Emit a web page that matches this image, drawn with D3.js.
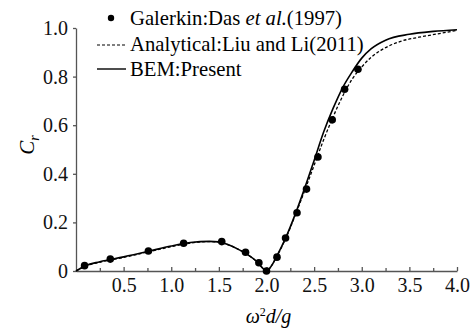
<!DOCTYPE html>
<html>
<head>
<meta charset="utf-8">
<script src="https://cdn.jsdelivr.net/npm/d3@7"></script>
<style>
  body { margin: 0; background: #fff; }
  text { font-family: "Liberation Serif", "Times New Roman", serif; }
</style>
</head>
<body>
<div id="chart"></div>
<script>
// Galerkin results (Das et al. 1997)
const galerkinX = [0.09, 0.36, 0.76, 1.13, 1.53, 1.78, 1.92, 2.0, 2.11, 2.2, 2.32, 2.42, 2.54, 2.69, 2.82, 2.96];
const galerkinY = [0.022, 0.049, 0.082, 0.114, 0.121, 0.077, 0.034, 0.0, 0.057, 0.136, 0.24, 0.337, 0.469, 0.622, 0.748, 0.83];

// analytical solution (Liu and Li 2011)
const analyticalX = [0, 0.1, 0.25, 0.5, 0.75, 1.0, 1.2, 1.4, 1.5, 1.6, 1.7, 1.8, 1.9, 1.96, 2.0, 2.05, 2.1, 2.2, 2.3, 2.4, 2.5, 2.6, 2.7, 2.8, 2.9, 3.0, 3.1, 3.2, 3.4, 3.6, 3.8, 4.0];
const analyticalY = [0, 0.02, 0.036, 0.056, 0.078, 0.1, 0.115, 0.121, 0.119, 0.107, 0.09, 0.068, 0.038, 0.012, 0.0, 0.02, 0.054, 0.132, 0.228, 0.33, 0.435, 0.54, 0.635, 0.72, 0.79, 0.84, 0.88, 0.908, 0.944, 0.962, 0.976, 0.99];

// BEM (present)
const bemX = [0, 0.1, 0.25, 0.5, 0.75, 1.0, 1.2, 1.4, 1.5, 1.6, 1.7, 1.8, 1.9, 1.96, 2.0, 2.05, 2.1, 2.2, 2.3, 2.4, 2.5, 2.6, 2.7, 2.8, 2.9, 3.0, 3.1, 3.25, 3.5, 3.75, 4.0];
const bemY = [0, 0.022, 0.038, 0.058, 0.08, 0.103, 0.117, 0.122, 0.12, 0.108, 0.09, 0.068, 0.038, 0.012, 0.0, 0.02, 0.055, 0.135, 0.232, 0.34, 0.455, 0.572, 0.67, 0.755, 0.82, 0.876, 0.915, 0.95, 0.974, 0.986, 0.993];

const xTicks = [0.5, 1.0, 1.5, 2.0, 2.5, 3.0, 3.5, 4.0];
const xMinorTicks = [0.25, 0.75, 1.25, 1.75, 2.25, 2.75, 3.25, 3.75];
const yTicks = [0, 0.2, 0.4, 0.6, 0.8, 1.0];

const legendLabels = ["Galerkin:Das ", "Analytical:Liu and Li(2011)", "BEM:Present"];

let margin = { top: 28, right: 16, bottom: 61, left: 76 };
let width = 473 - margin.left - margin.right;
let height = 332 - margin.top - margin.bottom;

let svg = d3.select("#chart")
  .append("svg")
  .attr("width", 473)
  .attr("height", 332);

let g = svg.append("g")
  .attr("transform", "translate(" + margin.left + "," + margin.top + ")");

let x = d3.scaleLinear().domain([0, 4]).range([0, width]);
let y = d3.scaleLinear().domain([0, 1]).range([height, 0]);

// x axis: ticks point inward
g.append("g")
  .attr("transform", "translate(0," + height + ")")
  .call(d3.axisBottom(x).tickValues(xTicks).tickSizeInner(-4).tickSizeOuter(0)
    .tickPadding(7).tickFormat(d3.format(".1f")));

g.append("g")
  .attr("transform", "translate(0," + height + ")")
  .call(d3.axisBottom(x).tickValues(xMinorTicks).tickSizeInner(-3).tickSizeOuter(0).tickFormat(""))
  .select(".domain").remove();

g.append("g")
  .call(d3.axisLeft(y).tickValues(yTicks).tickSizeInner(3).tickSizeOuter(0).tickPadding(5)
    .tickFormat(function (d) { return d === 0 ? "0" : d3.format(".1f")(d); }));

svg.selectAll(".domain, .tick line")
  .attr("stroke", "#555")
  .attr("stroke-width", 1.3);
svg.selectAll(".tick text")
  .style("font-size", "20px")
  .attr("fill", "#111");

// curves
let lineGen = function (xs, ys) {
  return d3.line()
    .x(function (d, i) { return x(xs[i]); })
    .y(function (d, i) { return y(ys[i]); })
    .curve(d3.curveMonotoneX)(xs);
};

g.append("path")
  .attr("fill", "none")
  .attr("stroke", "#000")
  .attr("stroke-width", 1.3)
  .attr("stroke-dasharray", "3,2")
  .attr("d", lineGen(analyticalX, analyticalY));

g.append("path")
  .attr("fill", "none")
  .attr("stroke", "#000")
  .attr("stroke-width", 1.6)
  .attr("d", lineGen(bemX, bemY));

g.selectAll("circle.galerkin")
  .data(galerkinX)
  .enter()
  .append("circle")
  .attr("class", "galerkin")
  .attr("cx", function (d) { return x(d); })
  .attr("cy", function (d, i) { return y(galerkinY[i]); })
  .attr("r", 3.8)
  .attr("fill", "#000");

// axis titles
svg.append("text")
  .attr("transform", "translate(34,145) rotate(-90)")
  .attr("text-anchor", "middle")
  .style("font-size", "21px")
  .style("font-style", "italic")
  .html('C<tspan dy="5" font-size="14px">r</tspan>');

svg.append("text")
  .attr("x", margin.left + width / 2 + 2)
  .attr("y", 323)
  .attr("text-anchor", "middle")
  .style("font-size", "20px")
  .style("font-style", "italic")
  .html('ω<tspan dy="-7" font-size="12px" font-style="normal">2</tspan><tspan dy="7">d/g</tspan>');

// legend
let legend = svg.append("g");

legend.append("circle")
  .attr("cx", 111).attr("cy", 18).attr("r", 3.2).attr("fill", "#000");
legend.append("line")
  .attr("x1", 97).attr("x2", 125).attr("y1", 45).attr("y2", 45)
  .attr("stroke", "#000").attr("stroke-width", 1.2).attr("stroke-dasharray", "3,2");
legend.append("line")
  .attr("x1", 97).attr("x2", 126).attr("y1", 69).attr("y2", 69)
  .attr("stroke", "#000").attr("stroke-width", 1.4);

let t1 = legend.append("text")
  .attr("x", 130).attr("y", 25).style("font-size", "20.7px");
t1.append("tspan").text(legendLabels[0]);
t1.append("tspan").style("font-style", "italic").text("et al.");
t1.append("tspan").text("(1997)");

legend.append("text")
  .attr("x", 130).attr("y", 51).style("font-size", "20.7px")
  .text(legendLabels[1]);

legend.append("text")
  .attr("x", 130).attr("y", 76).style("font-size", "20.7px")
  .text(legendLabels[2]);
</script>
</body>
</html>
